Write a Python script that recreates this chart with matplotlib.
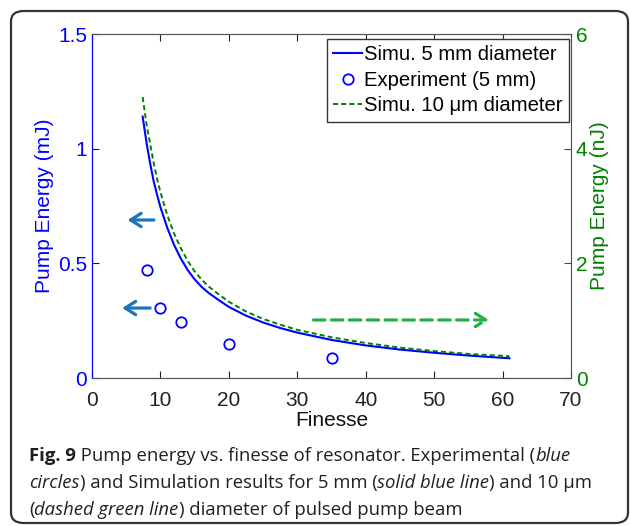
import matplotlib
matplotlib.use("Agg")
import matplotlib.pyplot as plt
from matplotlib.patches import FancyBboxPatch, FancyArrowPatch

# --- data ---------------------------------------------------------------
finesse_sim = [7.4, 8, 8.5, 9, 9.5, 10, 11, 12, 13, 14, 15, 16, 17, 18.5, 20,
               22.5, 25, 27.5, 30, 35, 40, 45, 50, 55, 61]
energy_5mm_mJ = [1.14, 1.02, 0.935, 0.86, 0.80, 0.745, 0.655, 0.58, 0.52, 0.47, 0.43,
                 0.398, 0.372, 0.34, 0.31, 0.272, 0.242, 0.218, 0.198, 0.166, 0.142,
                 0.124, 0.11, 0.098, 0.086]
energy_10um_nJ = [4.9, 4.4, 4.08, 3.76, 3.48, 3.24, 2.84, 2.52, 2.26, 2.04, 1.86,
                  1.72, 1.6, 1.46, 1.33, 1.16, 1.03, 0.93, 0.84, 0.71, 0.61,
                  0.53, 0.47, 0.42, 0.38]

finesse_exp = [8, 10, 13, 20, 35]
energy_exp_mJ = [0.47, 0.305, 0.245, 0.148, 0.087]

x_ticks = [0, 10, 20, 30, 40, 50, 60, 70]
left_ticks = [0, 0.5, 1, 1.5]
left_ticklabels = ["0", "0.5", "1", "1.5"]
right_ticks = [0, 2, 4, 6]

BLUE = "#0000ff"
GREEN = "#008000"
ARROW_BLUE = "#1b75bc"
ARROW_GREEN = "#22b04b"
AX_FONT = "Liberation Sans"
AX_SIZE = 15
CAP_FONT = "Open Sans"
CAP_COLOR = "#231f20"

W, H = 630, 526
fig = plt.figure(figsize=(W / 100, H / 100), dpi=100)

# rounded frame around the whole figure
frame = FancyBboxPatch((11 / W, 3 / H), 617 / W, 512 / H,
                       boxstyle="round,pad=0,rounding_size=0.02",
                       transform=fig.transFigure, fill=False,
                       edgecolor="#333333", linewidth=1.6)
fig.patches.append(frame)

left_px, right_px, top_px, bot_px = 92, 571, 34, 378
ax_w, ax_h = right_px - left_px, bot_px - top_px
ax = fig.add_axes([left_px / W, 1 - bot_px / H, ax_w / W, ax_h / H])
ax2 = ax.twinx()

l1, = ax.plot(finesse_sim, energy_5mm_mJ, color=BLUE, lw=1.5, label="Simu. 5 mm diameter")
l2, = ax.plot(finesse_exp, energy_exp_mJ, linestyle="none", marker="o", ms=7.5,
              mfc="none", mec=BLUE, mew=1.3, label="Experiment (5 mm)")
l3, = ax2.plot(finesse_sim, energy_10um_nJ, color=GREEN, lw=1.4, ls=(0, (2.6, 1.6)),
               label="Simu. 10 \u03bcm diameter")

ax.set_xlim(0, 70)
ax.set_ylim(0, 1.5)
ax2.set_ylim(0, 6)
ax.set_xticks(x_ticks)
ax.set_yticks(left_ticks)
ax.set_yticklabels(left_ticklabels)
ax2.set_yticks(right_ticks)

for a in (ax, ax2):
    for lab in a.get_xticklabels() + a.get_yticklabels():
        lab.set_fontfamily(AX_FONT)
        lab.set_fontsize(AX_SIZE)

ax.tick_params(axis="x", direction="in", top=True, length=5, colors="#222222", pad=9)
ax.tick_params(axis="y", direction="in", length=5, colors=BLUE, pad=3.5)
ax2.tick_params(axis="y", direction="in", length=5, colors=GREEN, pad=3.5)

ax.spines["left"].set_color(BLUE)
ax2.spines["left"].set_color(BLUE)
ax2.spines["right"].set_color(GREEN)
ax.spines["right"].set_visible(False)
for a in (ax, ax2):
    a.spines["top"].set_color("#555555")
    a.spines["bottom"].set_color("#555555")

ax.set_xlabel("Finesse", fontfamily=AX_FONT, fontsize=AX_SIZE, color="#111111", labelpad=1)
ax.set_ylabel("Pump Energy (mJ)", fontfamily=AX_FONT, fontsize=AX_SIZE, color=BLUE, labelpad=3)
ax2.set_ylabel("Pump Energy (nJ)", fontfamily=AX_FONT, fontsize=AX_SIZE, color=GREEN, labelpad=2)

leg = ax2.legend(handles=[l1, l2, l3], loc="upper right",
                 bbox_to_anchor=(1 - 2 / ax_w, 1 - 5 / ax_h),
                 prop={"family": AX_FONT, "size": 14.6}, handlelength=1.45, handletextpad=0.1,
                 borderpad=0.3, labelspacing=0.33, fancybox=False, framealpha=1,
                 edgecolor="#333333", borderaxespad=0)
leg.get_frame().set_linewidth(1.0)

# direction arrows pointing to the axis each curve belongs to
head = "->,head_length=3.8,head_width=2.4"
ax.add_patch(FancyArrowPatch((9.45, 0.689), (4.8, 0.689), arrowstyle=head,
                             mutation_scale=2, color=ARROW_BLUE, lw=2.3))
ax.add_patch(FancyArrowPatch((8.9, 0.305), (4.0, 0.305), arrowstyle=head,
                             mutation_scale=2, color=ARROW_BLUE, lw=2.3))
ax.add_patch(FancyArrowPatch((31.96, 0.253), (58.4, 0.253), arrowstyle=head,
                             mutation_scale=2, color=ARROW_GREEN, lw=2.3,
                             linestyle=(0, (3.6, 2.0))))

# caption with mixed styles, laid out piece by piece
caption_lines = [
    [("Fig. 9", "normal", "bold"), (" Pump energy vs. finesse of resonator. Experimental (", "normal", "normal"),
     ("blue", "italic", "normal")],
    [("circles", "italic", "normal"), (") and Simulation results for 5 mm (", "normal", "normal"),
     ("solid blue line", "italic", "normal"), (") and 10 \u03bcm", "normal", "normal")],
    [("(", "normal", "normal"), ("dashed green line", "italic", "normal"),
     (") diameter of pulsed pump beam", "normal", "normal")],
]
baselines_px = [461, 488, 515]
renderer = fig.canvas.get_renderer()
for pieces, base in zip(caption_lines, baselines_px):
    x = 29
    for txt, style, weight in pieces:
        t = fig.text(x / W, 1 - base / H, txt, fontfamily=CAP_FONT, fontsize=13.3,
                     fontstyle=style, fontweight=weight, color=CAP_COLOR, va="baseline", ha="left")
        bb = t.get_window_extent(renderer=renderer)
        x += bb.width

fig.savefig("out.png", dpi=100)
